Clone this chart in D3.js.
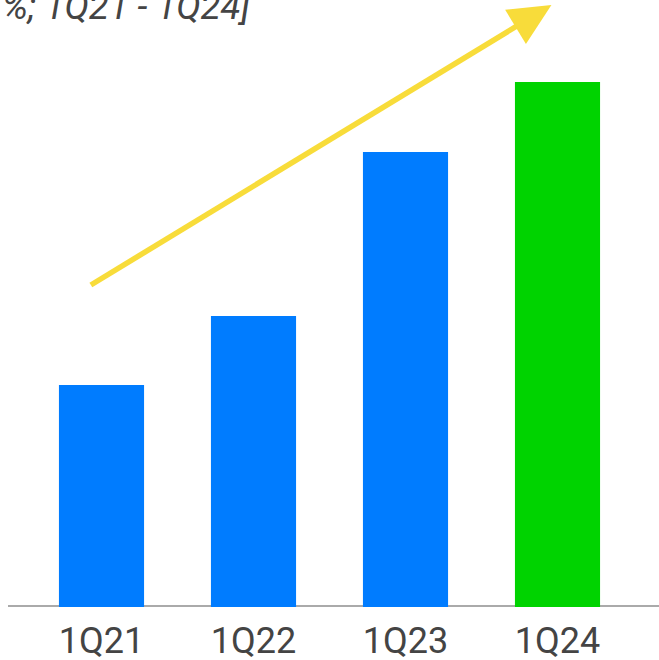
<!DOCTYPE html>
<html>
<head>
<meta charset="utf-8">
<script src="https://cdn.jsdelivr.net/npm/d3@7"></script>
<style>
  html, body { margin: 0; padding: 0; background: #fff; }
  svg { display: block; }
</style>
</head>
<body>
<svg id="chart" width="659" height="660"></svg>
<script>
// Quarterly values (share, %)
const quarters = ["1Q21", "1Q22", "1Q23", "1Q24"];
const values = [22.1, 29.0, 45.4, 52.4];
const highlight = ["1Q24"];
const titleText = "%; 1Q21 - 1Q24]";

// Trend arrow, in data terms: [quarter, offset within band (fraction of step), value]
const trendStart = ["1Q21", -0.07, 32.1];
const trendEnd = ["1Q24", -0.04, 60.1];

const W = 659, H = 660;
const svg = d3.select("#chart");

const x = d3.scaleBand()
  .domain(quarters)
  .range([25.5, 633.5])
  .paddingInner(0.44)
  .paddingOuter(0.22);

const y = d3.scaleLinear()
  .domain([0, 60])
  .range([606, 6]);

const fontFamily = "Roboto, 'Noto Sans', sans-serif";

// Title (italic, runs off the top-left)
svg.append("text")
  .attr("x", 2)
  .attr("y", 19)
  .attr("font-family", fontFamily)
  .attr("font-style", "italic")
  .attr("font-size", 36.5)
  .attr("fill", "#444")
  .text(titleText);

// Baseline
svg.append("line")
  .attr("x1", 8).attr("x2", W)
  .attr("y1", y(0)).attr("y2", y(0))
  .attr("stroke", "#aaa")
  .attr("stroke-width", 2);

// Bars
svg.selectAll("rect.bar")
  .data(quarters.map((q, i) => ({ q, v: values[i] })))
  .join("rect")
  .attr("class", "bar")
  .attr("x", d => x(d.q))
  .attr("width", x.bandwidth())
  .attr("y", d => y(d.v))
  .attr("height", d => y(0) + 1 - y(d.v))
  .attr("fill", d => highlight.includes(d.q) ? "#00D300" : "#007CFF");

// Category axis labels
const xAxis = d3.axisBottom(x).tickSize(0).tickPadding(0);
const gx = svg.append("g")
  .attr("transform", `translate(0, ${y(0)})`)
  .call(xAxis);
gx.select(".domain").remove();
gx.selectAll("text")
  .attr("y", 47)
  .attr("dy", 0)
  .attr("font-family", fontFamily)
  .attr("font-size", 36)
  .attr("fill", "#444");

// Trend arrow
const px = p => x(p[0]) + x.bandwidth() / 2 + p[1] * x.step();
const x0 = px(trendStart), y0 = y(trendStart[2]);
const x1 = px(trendEnd), y1 = y(trendEnd[2]);
const ang = Math.atan2(y1 - y0, x1 - x0);
const headLen = 42, headHalf = 20;
const bx = x1 - headLen * Math.cos(ang), by = y1 - headLen * Math.sin(ang);
const nx = -Math.sin(ang), ny = Math.cos(ang);
const arrowColor = "#F8DC3A";

svg.append("line")
  .attr("x1", x0).attr("y1", y0)
  .attr("x2", bx + 6 * Math.cos(ang)).attr("y2", by + 6 * Math.sin(ang))
  .attr("stroke", arrowColor)
  .attr("stroke-width", 5.5);

svg.append("path")
  .attr("d", d3.line()([
    [x1, y1],
    [bx + headHalf * nx, by + headHalf * ny],
    [bx - headHalf * nx, by - headHalf * ny]
  ]) + "Z")
  .attr("fill", arrowColor);
</script>
</body>
</html>
